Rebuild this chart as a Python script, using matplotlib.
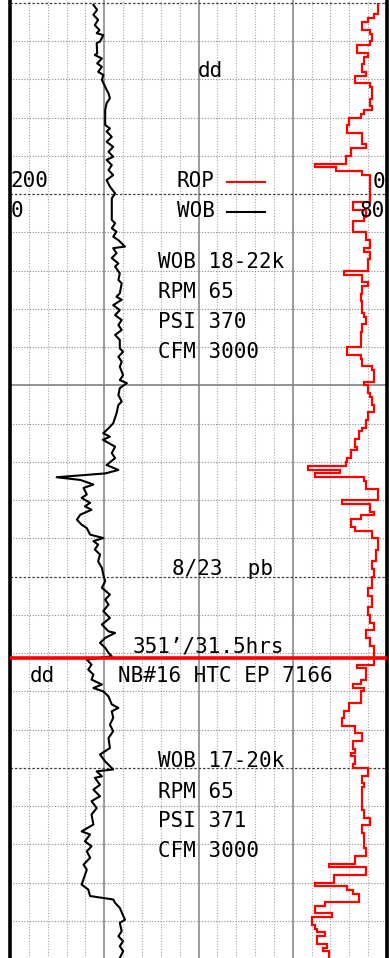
import matplotlib
matplotlib.use("Agg")
import matplotlib.pyplot as plt
from matplotlib.lines import Line2D

# WOB curve: depth below top of strip (ft) and weight on bit (klbs), scale 0-80
wob_depth = [0.5, 1.8, 3.1, 4.4, 5.8, 7.1, 7.9, 8.4, 10.1, 10.5,
             13.2, 13.6, 14.5, 15.8, 16.7, 18.0, 18.8, 20.1, 21.9, 22.7,
             23.6, 24.9, 26.2, 28.0, 31.9, 32.8, 33.6, 35.0, 36.3, 37.6,
             38.9, 40.2, 41.0, 42.4, 43.7, 45.0, 46.3, 48.0, 49.8, 51.1,
             56.7, 57.6, 58.9, 59.8, 61.1, 62.0, 63.7, 64.1, 65.4, 66.7,
             68.1, 68.9, 70.7, 72.4, 73.3, 75.9, 76.8, 77.6, 79.0, 80.3,
             81.6, 82.9, 84.2, 85.5, 86.8, 88.1, 90.3, 91.2, 92.5, 93.8,
             95.1, 97.3, 98.6, 99.4, 100.7, 102.5, 104.2, 105.1, 107.3, 109.9,
             111.2, 112.5, 113.4, 114.2, 116.0, 117.7, 119.0, 120.8, 122.1, 123.0,
             124.0, 124.7, 125.9, 126.8, 128.5, 129.4, 130.7, 131.6, 132.5, 133.8,
             135.1, 136.4, 137.3, 139.0, 139.9, 140.7, 141.6, 142.9, 144.2, 146.0,
             147.7, 149.5, 151.2, 152.9, 154.7, 156.0, 157.3, 159.0, 160.8, 162.5,
             164.3, 164.7, 166.0, 167.3, 168.6, 169.9, 170.8, 171.7, 173.0, 174.3,
             175.6, 176.9, 178.2, 179.1, 180.0, 181.3, 183.4, 184.3, 185.2, 186.9,
             188.7, 190.4, 192.2, 194.8, 196.5, 198.3, 200.4, 200.9, 202.2, 202.6,
             204.4, 205.7, 207.4, 208.7, 210.5, 212.2, 214.8, 216.6, 217.4, 219.2,
             220.5, 221.8, 223.5, 225.3, 226.6, 230.5, 231.8, 233.5, 234.4, 235.3,
             236.6, 239.7, 240.5, 242.7, 244.0, 245.3, 246.6, 247.9, 249.7]
wob_klbs = [17.7, 18.5, 17.7, 18.7, 18.0, 19.0, 18.4, 19.8, 19.1, 18.4,
            18.5, 18.0, 19.5, 18.5, 19.5, 18.7, 19.8, 19.5, 20.2, 20.5,
            20.9, 21.2, 20.5, 20.2, 20.2, 21.2, 20.5, 21.6, 20.5, 21.9,
            20.9, 21.9, 20.5, 21.6, 20.9, 21.9, 20.5, 21.2, 22.3, 21.6,
            21.6, 22.3, 21.6, 22.6, 21.9, 23.0, 24.4, 21.9, 22.6, 21.6,
            23.0, 22.3, 23.3, 23.0, 23.7, 23.3, 22.6, 23.7, 21.9, 23.3,
            22.3, 23.7, 23.0, 23.7, 22.3, 23.3, 23.3, 24.0, 23.0, 23.7,
            23.3, 24.0, 23.3, 24.8, 23.3, 23.0, 23.7, 23.0, 22.6, 21.9,
            20.9, 19.8, 21.2, 19.7, 22.3, 21.6, 22.3, 20.5, 23.0, 20.2,
            9.9, 14.9, 17.7, 15.6, 16.3, 15.2, 17.0, 15.9, 17.3, 14.9,
            14.2, 15.2, 16.3, 17.0, 19.8, 17.7, 18.7, 18.0, 19.1, 18.7,
            19.5, 19.8, 20.2, 19.5, 21.2, 20.2, 20.9, 19.8, 21.2, 19.5,
            20.9, 22.3, 20.2, 19.1, 20.2, 20.9, 21.6, 16.3, 17.3, 16.6,
            17.7, 17.3, 19.5, 17.7, 19.8, 20.9, 21.6, 23.0, 21.6, 21.9,
            21.2, 21.9, 20.9, 21.2, 19.1, 20.2, 21.9, 18.4, 19.5, 18.0,
            19.1, 17.7, 19.1, 17.3, 18.4, 17.3, 17.7, 15.2, 17.0, 15.9,
            17.3, 16.3, 17.0, 15.6, 16.3, 15.2, 16.6, 17.0, 21.9, 22.3,
            23.3, 24.4, 23.3, 23.7, 23.0, 24.0, 23.3, 24.0, 23.3]

# ROP curve: top of each interval (ft) and rate of penetration (ft/hr), scale 200-0
rop_top = [0, 3, 4, 5, 7, 8, 10, 11, 13, 14,
           16, 18, 19, 21, 22, 25, 27, 28, 29, 30,
           32, 34, 37, 38, 40, 42, 43, 44, 45, 52,
           54, 56, 57, 60, 62, 64, 65, 67, 70, 71,
           73, 74, 76, 78, 81, 82, 84, 86, 90, 92,
           93, 95, 96, 99, 100, 102, 103, 105, 107, 109,
           111, 112, 114, 116, 117, 119, 120, 121, 122, 123,
           124, 125, 127, 130, 131, 133, 134, 135, 137, 138,
           140, 143, 146, 148, 150, 153, 155, 158, 160, 162,
           164, 166, 168, 173, 174, 177, 178, 179, 180, 183,
           185, 187, 189, 191, 193, 195, 196, 197, 199, 200,
           202, 204, 205, 211, 213, 215, 217, 221, 223, 225,
           226, 228, 230, 231, 232, 233, 235, 236, 238, 239,
           241, 242, 243, 244, 246, 247, 248]
rop_bottom = 250
rop_fph = [5, 7, 10, 13, 9, 8, 9, 16, 10, 12,
           13, 11, 17, 9, 8, 9, 8, 12, 14, 20,
           21, 13, 11, 19, 22, 38, 27, 13, 9, 18,
           11, 12, 18, 11, 9, 12, 9, 10, 23, 13,
           10, 13, 14, 13, 12, 11, 13, 14, 21, 14,
           13, 8, 7, 12, 10, 9, 8, 7, 10, 11,
           13, 15, 17, 16, 19, 21, 22, 42, 25, 38,
           12, 11, 5, 24, 9, 7, 14, 19, 17, 8,
           5, 6, 8, 7, 8, 10, 8, 10, 9, 7,
           11, 9, 7, 16, 11, 14, 18, 12, 14, 20,
           23, 24, 17, 13, 18, 17, 19, 17, 18, 10,
           13, 12, 13, 12, 9, 13, 12, 11, 17, 31,
           11, 28, 38, 21, 18, 15, 33, 38, 29, 40,
           38, 37, 33, 37, 32, 34, 31]

bit_change = 171.2

W, H = 389, 958
fig = plt.figure(figsize=(W / 100, H / 100), dpi=100)
ax = fig.add_axes([10 / W, 0, 377 / W, 1])
ax.set_xlim(0, 80)
ax.set_ylim(249.7, -0.78)
ax.set_xticks([])
ax.set_yticks([])
for s in ("top", "bottom"):
    ax.spines[s].set_visible(False)
for s in ("left", "right"):
    ax.spines[s].set_linewidth(2.6)
    ax.spines[s].set_color("black")

# chart paper grid
for k in range(1, 20):
    xv = 4 * k
    if k % 5 == 0:
        ax.axvline(xv, color="#8a8a8a", lw=1.2, zorder=1)
    else:
        ax.axvline(xv, color="#a8a8a8", lw=0.8, ls=(0, (1, 1.5)), zorder=1)
for d in range(0, 250, 10):
    if d == 100:
        ax.axhline(d, color="#808080", lw=1.2, zorder=1)
    elif d % 50 == 0:
        ax.axhline(d, color="#404040", lw=0.9, ls=(0, (2, 1.5)), zorder=1)
    else:
        ax.axhline(d, color="#8c8c8c", lw=0.8, ls=(0, (1, 1.5)), zorder=1)

ax.plot(wob_klbs, wob_depth, color="black", lw=1.5, zorder=3)

ax2 = ax.twiny()
ax2.set_xlim(200, 0)
ax2.set_xticks([])
for s in ax2.spines.values():
    s.set_visible(False)
ax2.stairs(rop_fph, rop_top + [rop_bottom], orientation="horizontal",
           baseline=None, color="red", lw=1.6, zorder=3)

ax.axhline(bit_change, color="red", lw=2.6, zorder=4)


def px(x, y):
    return x / W, 1 - y / H


font = dict(family="DejaVu Sans Mono", fontsize=15, va="baseline", zorder=5)
labels = [
    (198, 77, "dd"),
    (11, 187, "200"),
    (177, 187, "ROP"),
    (373, 188, "0"),
    (11, 217, "0"),
    (177, 217, "WOB"),
    (360, 217, "80"),
    (158, 268, "WOB 18-22k"),
    (158, 298, "RPM 65"),
    (158, 328, "PSI 370"),
    (158, 358, "CFM 3000"),
    (172, 575, "8/23  pb"),
    (133, 652, "351\u2019/31.5hrs"),
    (30, 682, "dd"),
    (118, 682, "NB#16 HTC EP 7166"),
    (158, 767, "WOB 17-20k"),
    (158, 798, "RPM 65"),
    (158, 827, "PSI 371"),
    (158, 857, "CFM 3000"),
]
for x, y, s in labels:
    fig.text(*px(x, y), s, **font)

# legend strokes
fig.add_artist(Line2D([227 / W, 265 / W], [1 - 182 / H] * 2, color="red", lw=1.5))
fig.add_artist(Line2D([227 / W, 265 / W], [1 - 212 / H] * 2, color="black", lw=1.5))

fig.savefig("out.png", dpi=100)
